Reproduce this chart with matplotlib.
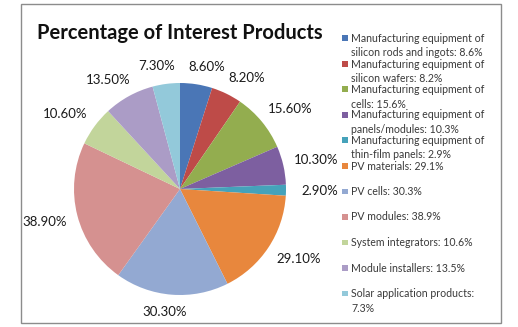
import numpy as np
import matplotlib
matplotlib.use("Agg")
import matplotlib.pyplot as plt
from matplotlib.patches import Rectangle

plt.rcParams['font.family'] = ['Lato', 'DejaVu Sans']

categories = [
    "Manufacturing equipment of\nsilicon rods and ingots: 8.6%",
    "Manufacturing equipment of\nsilicon wafers: 8.2%",
    "Manufacturing equipment of\ncells: 15.6%",
    "Manufacturing equipment of\npanels/modules: 10.3%",
    "Manufacturing equipment of\nthin-film panels: 2.9%",
    "PV materials: 29.1%",
    "PV cells: 30.3%",
    "PV modules: 38.9%",
    "System integrators: 10.6%",
    "Module installers: 13.5%",
    "Solar application products:\n7.3%",
]
values = [8.6, 8.2, 15.6, 10.3, 2.9, 29.1, 30.3, 38.9, 10.6, 13.5, 7.3]
value_labels = [f"{v:.2f}%" for v in values]
colors = ["#4A76B6", "#BE4B48", "#93AD4F", "#7D5FA0", "#45A2BA", "#E8873D",
          "#93A9D2", "#D59190", "#C2D59B", "#AB9CC6", "#93C9DA"]

W, H, DPI = 518, 327, 100
fig = plt.figure(figsize=(W / DPI, H / DPI), dpi=DPI)
fig.patch.set_facecolor("white")

# chart frame
fig.patches.append(Rectangle((21 / W, 1 - 323 / H), 480 / W, 319 / H,
                             transform=fig.transFigure, fill=False,
                             edgecolor="#8c8c8c", linewidth=1.0))

# pie axes: centre (180, 189) px, radius 106 px
cx, cy, r = 180, 189, 106
ax = fig.add_axes([(cx - r) / W, (H - cy - r) / H, 2 * r / W, 2 * r / H])
wedges, _ = ax.pie(values, colors=colors, startangle=90, counterclock=False,
                   wedgeprops=dict(linewidth=0))
ax.set_xlim(-1, 1)
ax.set_ylim(-1, 1)
ax.set_aspect("equal")
ax.axis("off")

# value labels just outside each slice, box offset toward the outside
half_w, half_h = 23, 7          # px
for w, txt in zip(wedges, value_labels):
    ang = np.deg2rad((w.theta1 + w.theta2) / 2)
    c, s = np.cos(ang), np.sin(ang)
    dx = half_w * np.sign(c) * np.sqrt(abs(c))
    dy = half_h * np.sign(s) * np.sqrt(abs(s))
    ax.annotate(txt, xy=(1.1 * c, 1.1 * s), xycoords="data",
                xytext=(dx * 72 / DPI, dy * 72 / DPI),
                textcoords="offset points", ha="center", va="center",
                fontsize=9.5, color="#1a1a1a", annotation_clip=False)

fig.text(180 / W, 1 - 33 / H, "Percentage of Interest Products",
         ha="center", va="center", fontsize=14.5, fontweight="bold",
         color="#111111")

# legend: swatch + one text line per row
top, step, line_pitch = 38.5, 25.5, 14.5
for i, (lab, col) in enumerate(zip(categories, colors)):
    y = top + i * step
    fig.patches.append(Rectangle((342 / W, 1 - (y + 2.5) / H), 5.5 / W, 5.5 / H,
                                 transform=fig.transFigure, facecolor=col,
                                 edgecolor="none"))
    for j, line in enumerate(lab.split("\n")):
        base = y + j * line_pitch + 3.5
        fig.text(351 / W, 1 - base / H, line, ha="left", va="baseline",
                 fontsize=7.6, color="#3a3a3a")

fig.savefig("out.png", dpi=DPI, facecolor="white")
